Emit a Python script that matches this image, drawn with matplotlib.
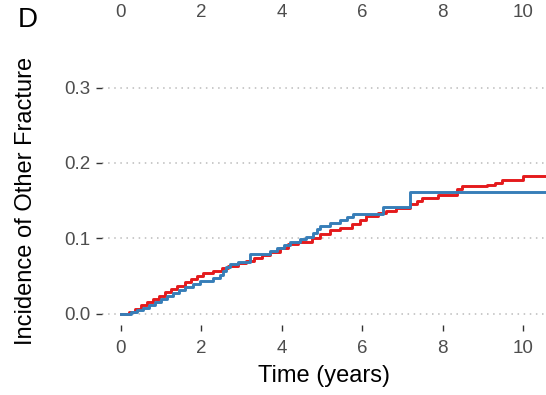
import matplotlib.pyplot as plt

plt.rcParams['font.family'] = ['Liberation Sans', 'DejaVu Sans']

# Cumulative incidence, group 1 (red)
red_time = [0, 0.2, 0.35, 0.5, 0.65, 0.8, 0.95, 1.1, 1.25, 1.4, 1.6, 1.75, 1.88, 2.05,
            2.3, 2.5, 2.65, 2.9, 3.1, 3.3, 3.5, 3.7, 3.95, 4.15, 4.4, 4.75, 4.95, 5.2,
            5.45, 5.75, 5.95, 6.1, 6.4, 6.6, 6.85, 7.19, 7.35, 7.48, 7.89, 8.35, 8.47,
            9.1, 9.3, 9.47, 10.01, 10.6]
red_ci = [0, 0.002, 0.006, 0.011, 0.015, 0.019, 0.024, 0.029, 0.033, 0.037, 0.042,
          0.046, 0.050, 0.054, 0.057, 0.061, 0.064, 0.067, 0.070, 0.074, 0.078, 0.082,
          0.087, 0.092, 0.095, 0.100, 0.106, 0.111, 0.114, 0.119, 0.125, 0.129, 0.133,
          0.136, 0.140, 0.146, 0.149, 0.153, 0.158, 0.166, 0.170, 0.171, 0.174, 0.178,
          0.183, 0.183]

# Cumulative incidence, group 2 (blue)
blue_time = [0, 0.25, 0.4, 0.55, 0.7, 0.85, 1.0, 1.15, 1.3, 1.45, 1.6, 1.8, 1.97,
             2.29, 2.45, 2.54, 2.62, 2.71, 2.9, 3.21, 3.71, 3.87, 4.05, 4.2, 4.45, 4.6,
             4.78, 4.88, 4.95, 5.2, 5.45, 5.61, 5.78, 6.52, 7.19, 10.6]
blue_ci = [0, 0.003, 0.005, 0.008, 0.012, 0.016, 0.020, 0.024, 0.028, 0.032, 0.036,
           0.039, 0.044, 0.047, 0.052, 0.057, 0.062, 0.066, 0.069, 0.079, 0.083, 0.087,
           0.091, 0.095, 0.099, 0.102, 0.107, 0.112, 0.116, 0.120, 0.125, 0.128, 0.132,
           0.142, 0.161, 0.161]

x_ticks = [0, 2, 4, 6, 8, 10]
y_ticks = [0.0, 0.1, 0.2, 0.3]

fig = plt.figure(figsize=(5.46, 3.95), dpi=100)
ax = fig.add_axes([0.187, 0.177, 0.813, 0.630])

ax.step(red_time, red_ci, where='post', color='#E41A1C', lw=2.1)
ax.step(blue_time, blue_ci, where='post', color='#377EB8', lw=2.1)

ax.set_xlim(-0.47, 10.57)
ax.set_ylim(-0.015, 0.315)
ax.set_xticks(x_ticks)
ax.set_yticks(y_ticks)
ax.set_yticklabels([f'{v:.1f}' for v in y_ticks])

for s in ax.spines.values():
    s.set_visible(False)
ax.grid(axis='y', color='#BBBBBB', linestyle=(0, (1, 3)), lw=1.1)
ax.set_axisbelow(True)
ax.tick_params(axis='both', colors='#333333', labelcolor='#4D4D4D',
               labelsize=13.5, length=4.3, width=1)
ax.tick_params(axis='x', pad=6.5)
ax.tick_params(axis='y', pad=4)

ax.set_xlabel('Time (years)', fontsize=17, labelpad=6)
ax.set_ylabel('Incidence of Other Fracture', fontsize=17, labelpad=20)

# tick labels of the panel above, partly cut off
top = ax.secondary_xaxis('top')
top.set_xticks(x_ticks)
top.tick_params(length=0, pad=40, labelsize=13.5, labelcolor='#4D4D4D')
top.spines['top'].set_visible(False)

fig.text(0.033, 0.949, 'D', fontsize=20, va='center', ha='left')

plt.savefig('out.png', dpi=100)
